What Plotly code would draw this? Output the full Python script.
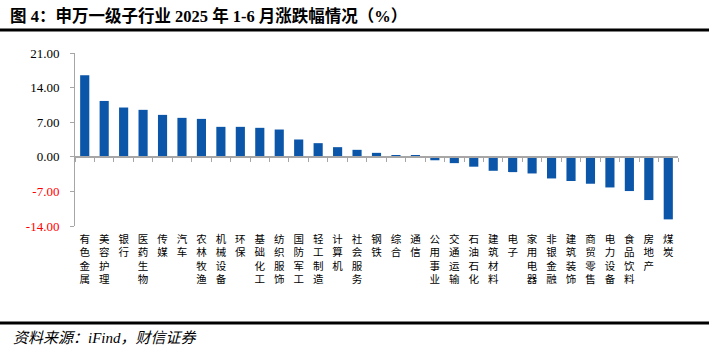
import plotly.graph_objects as go

categories = ["有色金属", "美容护理", "银行", "医药生物", "传媒", "汽车", "农林牧渔", "机械设备",
              "环保", "基础化工", "纺织服饰", "国防军工", "轻工制造", "计算机", "社会服务", "钢铁",
              "综合", "通信", "公用事业", "交通运输", "石油石化", "建筑材料", "电子", "家用电器",
              "非银金融", "建筑装饰", "商贸零售", "电力设备", "食品饮料", "房地产", "煤炭"]
values = [16.5, 11.3, 9.97, 9.5, 8.48, 7.88, 7.67, 6.06, 6.06, 5.86, 5.52, 3.5, 2.76, 1.95,
          1.41, 0.8, 0.27, 0.3, -0.7, -1.28, -2.0, -2.83, -3.1, -3.37, -4.38, -4.9, -5.45,
          -6.2, -6.93, -8.75, -12.66]
y_ticks = [-14, -7, 0, 7, 14, 21]

title_text = "<b>图 4：申万一级子行业 2025 年 1-6 月涨跌幅情况（%）</b>"
source_text = "<i>资料来源：iFind，财信证券</i>"

W, H = 709, 360
ML, MR, MT, MB = 75, 31, 53, 134
pw, ph = W - ML - MR, H - MT - MB


def px2x(px):
    return (px - ML) / pw


def py2y(py):
    return (H - MB - py) / ph


n = len(categories)
ymin, ymax = y_ticks[0], y_ticks[-1]

tick_text = []
for v in y_ticks:
    s = f"{v:.2f}"
    tick_text.append(f"<span style='color:#FF0000'>{s}</span>" if v < 0 else s)

stacked = ["<br>".join(list(c)) for c in categories]

fig = go.Figure()
fig.add_trace(go.Bar(x=list(range(n)), y=values, width=0.47,
                     marker=dict(color="#0B56A8", line=dict(width=0)),
                     hoverinfo="skip"))
fig.add_trace(go.Scatter(x=list(range(n)), y=values, xaxis="x2", mode="markers",
                         marker=dict(opacity=0), hoverinfo="skip", showlegend=False))

axis_gray = "#A6A6A6"
fig.update_layout(
    width=W, height=H,
    margin=dict(l=ML, r=MR, t=MT, b=MB),
    paper_bgcolor="white", plot_bgcolor="white",
    showlegend=False,
    xaxis=dict(range=[-0.5, n - 0.5], tickmode="array", tickvals=list(range(n)),
               ticktext=stacked, showline=False, showgrid=False, zeroline=False,
               ticks="", tickangle=0, ticklabelstandoff=5,
               tickfont=dict(family="Noto Sans CJK SC", size=10.5, color="#000000")),
    xaxis2=dict(range=[-0.5, n - 0.5], overlaying="x", anchor="free",
                position=(0 - ymin) / (ymax - ymin),
                showline=True, linecolor=axis_gray, linewidth=1.5,
                tickmode="array", tickvals=[i - 0.5 for i in range(n + 1)],
                ticks="outside", ticklen=4, tickcolor=axis_gray, tickwidth=1,
                showticklabels=False, showgrid=False, zeroline=False),
    yaxis=dict(range=[ymin, ymax], tickmode="array", tickvals=y_ticks, ticktext=tick_text,
               showline=True, linecolor=axis_gray, linewidth=1, showgrid=False,
               zeroline=False, ticks="outside", ticklen=4, tickcolor=axis_gray,
               ticklabelstandoff=8,
               tickfont=dict(family="Liberation Serif", size=13, color="#000000")),
    annotations=[
        dict(text=title_text, xref="paper", yref="paper", x=px2x(8), y=py2y(16),
             xanchor="left", yanchor="middle", showarrow=False,
             font=dict(family="Liberation Serif, Noto Sans CJK SC", size=16.5, color="#000000")),
        dict(text=source_text, xref="paper", yref="paper", x=px2x(11), y=py2y(337.5),
             xanchor="left", yanchor="middle", showarrow=False,
             font=dict(family="Liberation Serif, Noto Sans CJK SC", size=15, color="#000000")),
    ],
    shapes=[
        dict(type="line", xref="paper", yref="paper", x0=px2x(0), x1=px2x(W),
             y0=py2y(30), y1=py2y(30), line=dict(color="#000000", width=3)),
        dict(type="line", xref="paper", yref="paper", x0=px2x(0), x1=px2x(W),
             y0=py2y(323), y1=py2y(323), line=dict(color="#000000", width=3)),
    ],
)

fig.write_html("out.html", config={"displayModeBar": False},
               post_script="document.body.style.margin='0';document.body.style.overflow='hidden';")
